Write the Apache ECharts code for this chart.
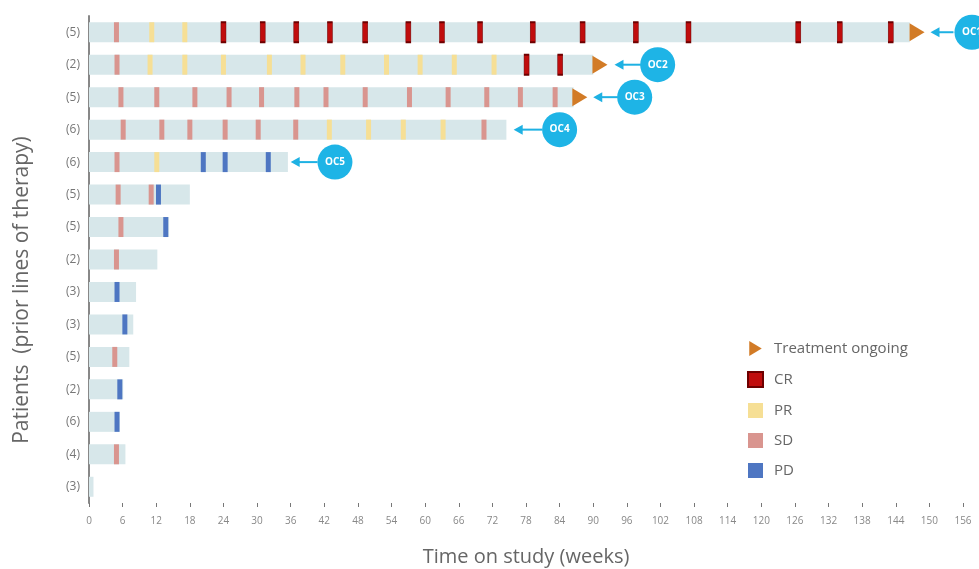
<!DOCTYPE html>
<html><head><meta charset="utf-8">
<script src="https://cdn.jsdelivr.net/npm/echarts@6/dist/echarts.min.js"></script>
<style>html,body{margin:0;padding:0;background:#fff}#c{width:979px;height:569px}</style>
</head><body><div id="c"></div>
<script>
const categories = ['(5)','(2)','(5)','(6)','(6)','(5)','(5)','(2)','(3)','(3)','(5)','(2)','(6)','(4)','(3)'];
const durations = [146.5, 90, 86.5, 74.5, 35.5, 18, 14.3, 12.2, 8.4, 7.9, 7.2, 6.1, 5.5, 6.5, 0.8];
const xTicks = [0,6,12,18,24,30,36,42,48,54,60,66,72,78,84,90,96,102,108,114,120,126,132,138,144,150,156];
// response assessments: [week, rowIndex]
const crPoints = [[24,0],[31,0],[37,0],[43,0],[49.3,0],[57,0],[63,0],[69.8,0],[79.2,0],[88.1,0],[97.6,0],[107,0],[126.6,0],[134,0],[143.1,0],[78.1,1],[84.1,1]];
const prPoints = [[11.2,0],[17.1,0],[10.9,1],[17.1,1],[24,1],[32.2,1],[38.2,1],[45.3,1],[53.1,1],[59.1,1],[65.2,1],[72.3,1],[42.9,3],[49.9,3],[56.1,3],[63.2,3],[12.1,4]];
const sdPoints = [[4.9,0],[5,1],[5.7,2],[12.1,2],[18.9,2],[25,2],[30.8,2],[37.1,2],[42.3,2],[49.3,2],[57.2,2],[64.1,2],[71,2],[77,2],[83.2,2],[6.1,3],[13,3],[18,3],[24.3,3],[30.2,3],[36.9,3],[70.5,3],[5,4],[5.2,5],[11.1,5],[5.7,6],[4.9,7],[4.6,10],[4.9,13]];
const pdPoints = [[20.4,4],[24.3,4],[32,4],[12.4,5],[13.7,6],[5,8],[6.4,9],[5.5,11],[5,12]];
const ongoing = [[147.8,0],[91.2,1],[87.6,2]];
// callouts: label, circle centre week, arrow tail week, arrow tip week, row
const calloutLabels = ['OC1','OC2','OC3','OC4','OC5'];
const calloutCentre = [157.6, 101.5, 97.4, 84, 43.9];
const arrowTail = [154.3, 98.5, 94.4, 80.9, 40.8];
const arrowTip = [150.2, 93.8, 90, 75.8, 36];
const calloutRow = [0, 1, 2, 3, 4];

const chart = echarts.init(document.getElementById('c'));
const font = '"Open Sans", Lato, sans-serif';
const markW = 5, markH = 20;
chart.setOption({
  animation: false,
  textStyle: {fontFamily: font},
  grid: {left: 89, right: 16, top: 16, bottom: 66, containLabel: false, outerBoundsMode: 'none'},
  legend: {
    orient: 'vertical', left: 742, top: 336, itemWidth: 15, itemHeight: 15, itemGap: 15,
    textStyle: {color: '#666', fontSize: 15, fontFamily: font, padding: [0,0,0,6]},
    data: [
      {name: 'Treatment ongoing', icon: 'path://M0,0L10,6L0,12Z'},
      {name: 'CR', icon: 'rect'}, {name: 'PR', icon: 'rect'}, {name: 'SD', icon: 'rect'}, {name: 'PD', icon: 'rect'}
    ]
  },
  graphic: [{
    type: 'text', x: 22, y: 290, rotation: Math.PI / 2,
    style: {text: 'Patients  (prior lines of therapy)', fill: '#666', font: '21px "Open Sans", sans-serif', textAlign: 'center', textVerticalAlign: 'middle'}
  }],
  xAxis: {
    type: 'value', min: 0, max: 156, interval: 6,
    name: 'Time on study (weeks)', nameLocation: 'middle', nameGap: 44,
    nameTextStyle: {color: '#666', fontSize: 20, fontFamily: font},
    axisLine: {lineStyle: {color: '#999', width: 2}},
    axisTick: {show: true, length: 4, lineStyle: {color: '#777'}},
    axisLabel: {color: '#888', fontSize: 10, margin: 13},
    splitLine: {show: false}
  },
  yAxis: {
    type: 'category', data: categories, inverse: true,
    axisLine: {lineStyle: {color: '#888', width: 2}},
    axisTick: {show: false},
    axisLabel: {color: '#777', fontSize: 12, margin: 9}
  },
  series: [
    {type: 'bar', data: durations, barWidth: 20, itemStyle: {color: '#d7e7ea'}, silent: true, z: 1},
    {name: 'SD', type: 'scatter', data: sdPoints, symbol: 'rect', symbolSize: [markW, markH], itemStyle: {color: '#d9958f', opacity: 1}, z: 3},
    {name: 'PR', type: 'scatter', data: prPoints, symbol: 'rect', symbolSize: [markW, markH], itemStyle: {color: '#f6df95', opacity: 1}, z: 3},
    {name: 'CR', type: 'scatter', data: crPoints, symbol: 'rect', symbolSize: [markW, markH], itemStyle: {color: '#c00d0d', borderColor: '#6e0000', borderWidth: 1, opacity: 1}, z: 4},
    {name: 'PD', type: 'scatter', data: pdPoints, symbol: 'rect', symbolSize: [markW, markH], itemStyle: {color: '#4e76c2', opacity: 1}, z: 4},
    {name: 'Treatment ongoing', type: 'scatter', data: ongoing, symbol: 'triangle', symbolRotate: -90, symbolSize: [18, 15], itemStyle: {color: '#d27b26', opacity: 1}, z: 4},
    {type: 'custom', clip: false, z: 5, silent: true,
      data: calloutRow.map((r, i) => [arrowTail[i], arrowTip[i], r]),
      renderItem: function (params, api) {
        const a = api.coord([api.value(0), api.value(2)]);
        const b = api.coord([api.value(1), api.value(2)]);
        const c = '#1eb1e3';
        return {type: 'group', children: [
          {type: 'line', shape: {x1: a[0], y1: a[1], x2: b[0] + 6, y2: b[1]}, style: {stroke: c, lineWidth: 2}},
          {type: 'polygon', shape: {points: [[b[0], b[1]], [b[0] + 9, b[1] - 5], [b[0] + 9, b[1] + 5]]}, style: {fill: c}}
        ]};
      }
    },
    {type: 'scatter', clip: false, z: 6, silent: true,
      data: calloutRow.map((r, i) => ({name: calloutLabels[i], value: [calloutCentre[i], r]})),
      symbol: 'circle', symbolSize: 35, itemStyle: {color: '#1eb4e6', opacity: 1},
      label: {show: true, position: 'inside', formatter: '{b}', color: '#fff', fontSize: 10, fontWeight: 'bold', fontFamily: font}
    }
  ]
});
</script></body></html>
